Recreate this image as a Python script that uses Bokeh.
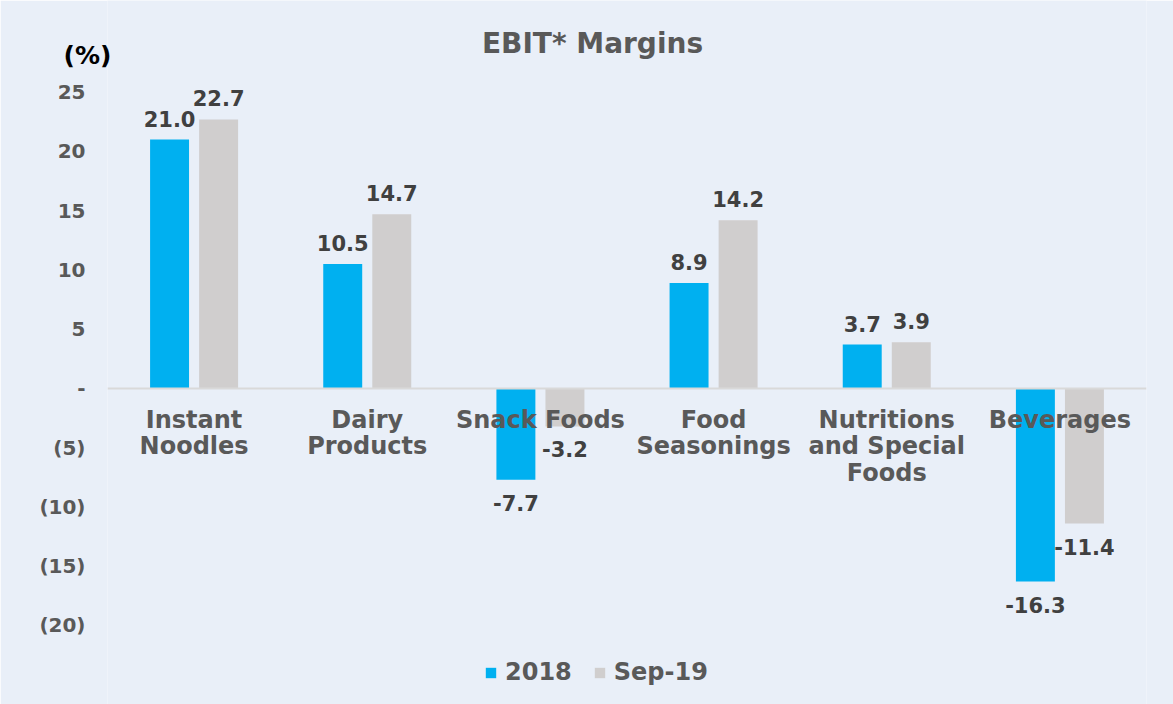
from bokeh.plotting import figure
from bokeh.models import (ColumnDataSource, FactorRange, Range1d, FixedTicker, Span,
                          Label, Legend, LegendItem, LinearAxis)
from bokeh.transform import dodge
from bokeh.core.properties import value
from bokeh.embed import file_html
from bokeh.resources import INLINE

# ---- data ----
categories = ["Instant Noodles", "Dairy Products", "Snack Foods",
              "Food Seasonings", "Nutritions and Special Foods", "Beverages"]
category_lines = ["Instant\nNoodles", "Dairy\nProducts", "Snack Foods",
                  "Food\nSeasonings", "Nutritions\nand Special\nFoods", "Beverages"]
margin_2018 = [21.0, 10.5, -7.7, 8.9, 3.7, -16.3]
margin_sep19 = [22.7, 14.7, -3.2, 14.2, 3.9, -11.4]
series_names = ["2018", "Sep-19"]
y_ticks = [-20, -15, -10, -5, 0, 5, 10, 15, 20, 25]
y_tick_labels = ["(20)", "(15)", "(10)", "(5)", "-", "5", "10", "15", "20", "25"]
chart_title = "EBIT* Margins"
unit_label = "(%)"

# ---- style ----
BG = "#E9EFF8"
BLUE = "#00B0F0"
GRAY = "#D0CECE"
FONT = "DejaVu Sans"

W, H = 1173, 704
p = figure(width=W, height=H, output_backend="svg", toolbar_location=None,
           x_range=FactorRange(*categories), y_range=Range1d(-26.67, 32.74),
           min_border_left=107, min_border_right=27, min_border_top=0, min_border_bottom=0)
p.background_fill_color = BG
p.border_fill_color = BG
p.outline_line_color = None
p.xgrid.visible = False
p.ygrid.visible = False
p.xaxis.visible = False

ya = p.yaxis[0]
ya.ticker = FixedTicker(ticks=y_ticks)
ya.major_label_overrides = {t: l for t, l in zip(y_ticks, y_tick_labels)}
ya.axis_line_color = None
ya.major_tick_line_color = None
ya.minor_tick_line_color = None
ya.major_tick_out = 0
ya.major_tick_in = 0
ya.major_label_standoff = 22
ya.major_label_text_font = FONT
ya.major_label_text_font_style = "bold"
ya.major_label_text_font_size = "20px"
ya.major_label_text_color = "#595959"

# unit label "(%)" as an outer axis tick label near the top
unit_pos = 28.1
ua = LinearAxis(ticker=FixedTicker(ticks=[unit_pos]),
                major_label_overrides={unit_pos: unit_label},
                axis_line_color=None, major_tick_line_color=None,
                minor_tick_line_color=None, major_tick_out=0, major_tick_in=0,
                major_label_standoff=-75,
                major_label_text_font=FONT, major_label_text_font_style="bold",
                major_label_text_font_size="25px", major_label_text_color="#000000")
p.add_layout(ua, "left")

def off(vals):
    return [-21 if v >= 0 else 23 for v in vals]

src = ColumnDataSource(dict(
    cat=categories,
    v18=margin_2018, v19=margin_sep19,
    t18=[f"{v:.1f}" for v in margin_2018],
    t19=[f"{v:.1f}" for v in margin_sep19],
    o18=off(margin_2018), o19=off(margin_sep19),
    lines=category_lines, zero=[0] * len(categories),
))

DX = 0.1416
BW = 0.225
r18 = p.vbar(x=dodge("cat", -DX, range=p.x_range), top="v18", bottom=0, width=BW,
             source=src, fill_color=BLUE, line_color=None)
r19 = p.vbar(x=dodge("cat", DX, range=p.x_range), top="v19", bottom=0, width=BW,
             source=src, fill_color=GRAY, line_color=None)

p.add_layout(Span(location=0, dimension="width", line_color="#D9D9D9", line_width=2))

p.text(x=dodge("cat", -DX, range=p.x_range), y="v18", text="t18", y_offset="o18", source=src,
       text_font=value(FONT), text_font_style="bold", text_font_size="21px",
       text_color="#404040", text_align="center", text_baseline="alphabetic")
p.text(x=dodge("cat", DX, range=p.x_range), y="v19", text="t19", y_offset="o19", source=src,
       text_font=value(FONT), text_font_style="bold", text_font_size="21px",
       text_color="#404040", text_align="center", text_baseline="alphabetic")

p.text(x="cat", y="zero", text="lines", source=src, y_offset=18,
       text_font=value(FONT), text_font_style="bold", text_font_size="24px",
       text_color="#595959", text_align="center", text_baseline="top",
       text_line_height=0.93)

p.add_layout(Label(x=485, y=661, x_units="screen", y_units="screen", text=chart_title,
                   text_font=FONT, text_font_style="bold", text_font_size="28px",
                   text_color="#595959", text_align="center", text_baseline="alphabetic"))

legend = Legend(items=[LegendItem(label=series_names[0], renderers=[r18]),
                       LegendItem(label=series_names[1], renderers=[r19])],
                location=(377, 18), orientation="horizontal",
                background_fill_alpha=0, border_line_color=None,
                glyph_width=13, glyph_height=13, label_standoff=8, spacing=21,
                padding=0, margin=0,
                label_text_font=FONT, label_text_font_style="bold",
                label_text_font_size="24px", label_text_color="#595959")
p.add_layout(legend)

open("out.html", "w").write(file_html(p, INLINE))
